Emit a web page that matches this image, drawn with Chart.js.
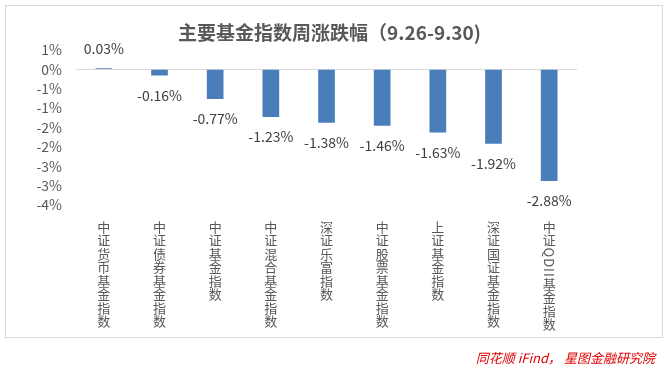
<!DOCTYPE html>
<html>
<head>
<meta charset="utf-8">
<script src="https://cdn.jsdelivr.net/npm/chart.js@4"></script>
<style>
html,body{margin:0;padding:0;background:#fff;}
#wrap{position:relative;width:669px;height:370px;}
#frame{position:absolute;left:5px;top:5px;width:656px;height:331px;border:1px solid #d9d9d9;}
#src{position:absolute;right:14px;top:348px;font:italic 13px "Noto Sans CJK SC";color:#e00000;}
canvas{position:absolute;left:0;top:0;}
</style>
</head>
<body>
<div id="wrap">
<div id="frame"></div>
<canvas id="chart" width="669" height="370"></canvas>
<div id="src">同花顺 iFind， 星图金融研究院</div>
</div>
<script>
/* 主要基金指数周涨跌幅 */

const titleText = "主要基金指数周涨跌幅（9.26-9.30)";
const categories = ["中证货币基金指数","中证债券基金指数","中证基金指数","中证混合基金指数","深证乐富指数","中证股票基金指数","上证基金指数","深证国证基金指数","中证QDII基金指数"];
const changes = [0.03,-0.16,-0.77,-1.23,-1.38,-1.46,-1.63,-1.92,-2.88];
const yTickLabels = ["1%","0%","-1%","-1%","-2%","-2%","-3%","-3%","-4%"];

const FONT = '"Noto Sans CJK SC", "Noto Sans", sans-serif';

// 数据标签
const valueLabels = {
  id: "valueLabels",
  afterDatasetsDraw(chart){
    const ctx = chart.ctx;
    const bars = chart.getDatasetMeta(0).data;
    ctx.save();
    ctx.font = "14px " + FONT;
    ctx.fillStyle = "#404040";
    ctx.textAlign = "center";
    ctx.textBaseline = "middle";
    bars.forEach((b,i)=>{
      let v = changes[i];
      let y = v >= 0 ? b.y - 19 : b.y + 20;
      ctx.fillText(v.toFixed(2) + "%", b.x, y);
    });
    ctx.restore();
  }
};

// 竖排分类标签
const verticalLabels = {
  id: "verticalLabels",
  afterDraw(chart){
    const ctx = chart.ctx;
    const x = chart.scales.x;
    ctx.save();
    ctx.font = "13px " + FONT;
    ctx.fillStyle = "#595959";
    ctx.textAlign = "center";
    ctx.textBaseline = "middle";
    categories.forEach((label,i)=>{
      let cx = x.getPixelForValue(i);
      let y = 220;
      for(const ch of label){
        if(/[A-Za-z0-9]/.test(ch)){
          let w = ctx.measureText(ch).width + 1;
          ctx.save();
          ctx.translate(cx, y + w/2);
          ctx.rotate(Math.PI/2);
          ctx.fillText(ch,0,0);
          ctx.restore();
          y += w;
        } else {
          ctx.fillText(ch, cx, y + 6.75);
          y += 13.5;
        }
      }
    });
    ctx.restore();
  }
};

new Chart(document.getElementById("chart"),{
  type:"bar",
  data:{
    labels:categories,
    datasets:[{
      data:changes,
      backgroundColor:"#4a7ebb",
      barPercentage:0.3,
      categoryPercentage:1.0
    }]
  },
  options:{
    responsive:false,
    animation:false,
    layout:{padding:{left:0,right:10,top:0,bottom:165}},
    plugins:{
      legend:{display:false},
      tooltip:{enabled:false},
      title:{
        display:true,
        text:titleText,
        color:"#595959",
        font:{family:FONT,size:19,weight:"bold"},
        padding:{top:21,bottom:6}
      }
    },
    scales:{
      x:{display:false},
      y:{
        min:-3.5,
        max:0.5,
        afterFit(s){ s.width = 76; },
        ticks:{
          stepSize:0.5,
          autoSkip:false,
          padding:14,
          color:"#595959",
          font:{family:FONT,size:14},
          callback:(v,i,ticks)=>yTickLabels[ticks.length-1-i]
        },
        grid:{
          drawTicks:false,
          color:c=>c.tick && Math.abs(c.tick.value)<1e-9 ? "#d9d9d9" : "transparent"
        },
        border:{display:false}
      },
      y2:{
        position:"right",
        afterFit(s){ s.width = 82; },
        ticks:{display:false},
        grid:{display:false},
        border:{display:false}
      }
    }
  },
  plugins:[valueLabels,verticalLabels]
});
</script>
</body>
</html>
